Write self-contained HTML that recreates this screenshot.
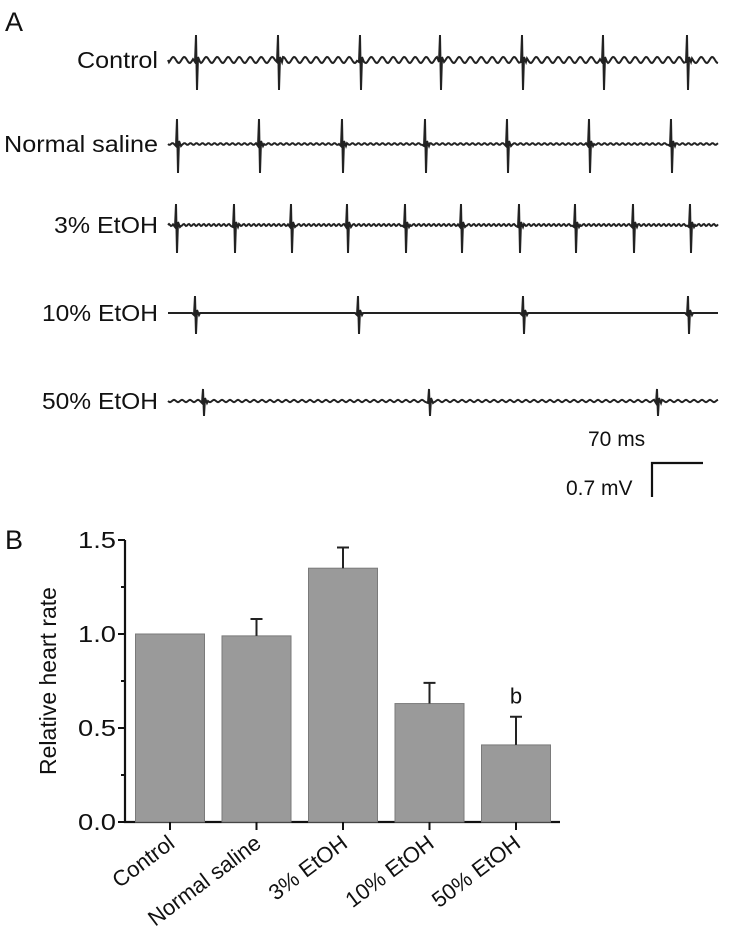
<!DOCTYPE html>
<html><head><meta charset="utf-8"><style>
html,body{margin:0;padding:0;background:#fff;}
svg{display:block;font-family:"Liberation Sans",Arial,sans-serif;}
</style></head><body>
<svg id="fig" width="729" height="933" viewBox="0 0 729 933">
<text x="5" y="31" font-size="27" fill="#111">A</text>
<text x="5" y="549" font-size="27" fill="#111">B</text>
<g id="traces"></g>
<g>
<text x="588" y="446" font-size="21" fill="#111">70 ms</text>
<text x="566" y="495" font-size="21" fill="#111">0.7 mV</text>
<path d="M703 463 H652 V497" fill="none" stroke="#111" stroke-width="2.2"/>
</g>
<g id="chart"></g>
</svg>
<script>
// ---- traces data ----
const traceNames = ["Control","Normal saline","3% EtOH","10% EtOH","50% EtOH"];
const traceBaselines = [60,144,225,313,401];
const spikesControl = [197,279,361,441,523,604,688];
const spikesSaline = [178,260,343,426,508,590,672];
const spikes3 = [177,235,292,348,406,462,520,576,634,691];
const spikes10 = [196,359,524,689];
const spikes50 = [204,430,658];
const spikeUp = [25,25,21,17,12];
const spikeDown = [30,29,28,21,15];
const wiggleAmp = [3,0.9,1.1,0,1.2];
const wigglePeriod = [11,6,5,8,8];
const labelWidths = [81,154,104,116,116];
const allSpikes = [spikesControl,spikesSaline,spikes3,spikes10,spikes50];

// ---- bar data ----
const categories = ["Control","Normal saline","3% EtOH","10% EtOH","50% EtOH"];
const means = [1.0,0.99,1.35,0.63,0.41];
const errors = [0,0.09,0.11,0.11,0.15];
const yTicks = [0.0,0.5,1.0,1.5];
const yTickLabels = ["0.0","0.5","1.0","1.5"];
const annotations = ["","","","","b"];

const NS="http://www.w3.org/2000/svg";
function mk(tag,attrs,parent){const e=document.createElementNS(NS,tag);for(const k in attrs)e.setAttribute(k,attrs[k]);parent.appendChild(e);return e;}

const tg=document.getElementById('traces');
traceNames.forEach((name,i)=>{
  const y0=traceBaselines[i];
  const t=mk('text',{x:158,y:y0+8,'font-size':23,'text-anchor':'end',fill:'#111',textLength:labelWidths[i],lengthAdjust:'spacingAndGlyphs'},tg);
  t.textContent=name;
  
  
  let d='M168 '+y0;
  const sp=allSpikes[i];
  for(let x=169;x<=718;x++){
    let near=sp.find(s=>Math.abs(x-s)<4);
    if(near!==undefined){
      if(x===near){d+=` L${near-2} ${y0+2} L${near-1} ${y0-spikeUp[i]} L${near} ${y0+spikeDown[i]} L${near+1} ${y0-3} L${near+3} ${y0+2}`;x=near+3;}
      continue;
    }
    const w=wiggleAmp[i]*Math.sin(x*2*Math.PI/wigglePeriod[i]);
    d+=` L${x} ${(y0+w).toFixed(1)}`;
  }
  const p=mk('path',{d:d,fill:'none',stroke:'#222','stroke-width':2},tg);
  
  
});

const cg=document.getElementById('chart');
const axL=125, axR=560, y0px=822, yTop=540, yMax=1.5;
const yS=v=>y0px-(v/yMax)*(y0px-yTop);
const band=86.5, first=170, barW=69;
const xC=i=>first+i*band;
const ax=mk('path',{d:`M${axL} ${yTop} V${y0px} H${axR}`,fill:'none',stroke:'#111','stroke-width':2.2},cg);


for(let v=0;v<=1.5001;v+=0.25){
  const tk=mk('line',{x1:axL-(Math.abs(v*2-Math.round(v*2))<0.01?7:4),x2:axL,y1:yS(v),y2:yS(v),stroke:'#111','stroke-width':2},cg);
  
  
}
yTicks.forEach((v,i)=>{
  const t=mk('text',{x:axL-9,y:yS(v)+8,'font-size':23,'text-anchor':'end',fill:'#111',textLength:38,lengthAdjust:'spacingAndGlyphs'},cg);
  t.textContent=yTickLabels[i];
  
  
});
const yt=mk('text',{transform:`translate(56 ${(yTop+y0px)/2}) rotate(-90)`,'font-size':23,'text-anchor':'middle',fill:'#111'},cg);
yt.textContent='Relative heart rate';


categories.forEach((c,i)=>{
  const x=xC(i);
  const b=mk('rect',{x:x-barW/2,y:yS(means[i]),width:barW,height:y0px-yS(means[i]),fill:'#9a9a9a',stroke:'#7a7a7a','stroke-width':1},cg);
  
  
  if(errors[i]>0){
    const e=mk('path',{d:`M${x} ${yS(means[i])} V${yS(means[i]+errors[i])} M${x-6} ${yS(means[i]+errors[i])} H${x+6}`,stroke:'#222','stroke-width':2,fill:'none'},cg);
    
    
  }
  if(annotations[i]){
    const a=mk('text',{x:x,y:yS(means[i]+errors[i])-13,'font-size':22,'text-anchor':'middle',fill:'#111'},cg);
    a.textContent=annotations[i];
    
    
  }
  const tk=mk('line',{x1:x,x2:x,y1:y0px,y2:y0px+8,stroke:'#111','stroke-width':2},cg);
  
  
  const t=mk('text',{transform:`translate(${x+6} ${y0px+24}) rotate(-37)`,'font-size':22,'text-anchor':'end',fill:'#111'},cg);
  t.textContent=c;
  
  
});
</script>
</body></html>
